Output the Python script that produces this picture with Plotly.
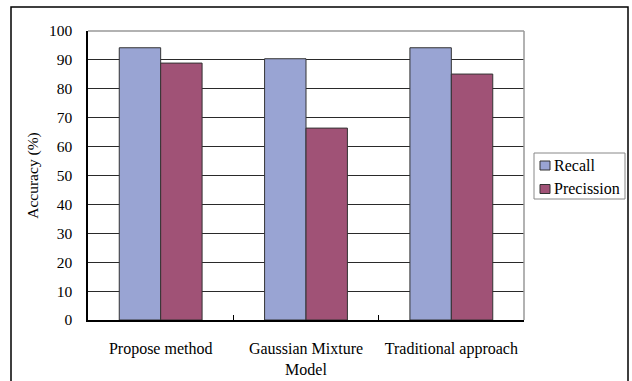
import plotly.graph_objects as go

categories = ["Propose method", "Gaussian Mixture<br>Model", "Traditional approach"]
recall = [94.2, 90.4, 94.2]
precission = [88.9, 66.4, 85.1]
y_ticks = [0, 10, 20, 30, 40, 50, 60, 70, 80, 90, 100]
series_names = ["Recall", "Precission"]
series_colors = ["#99A4D3", "#A05276"]

FONT = "Liberation Serif"
W, H = 632, 381
L, R, T, B = 88, 108, 31, 61
PW, PH = W - L - R, H - T - B


def px(x):
    return (x - L) / PW


def py(y):
    return (H - B - y) / PH


fig = go.Figure()
for name, vals, col in zip(series_names, [recall, precission], series_colors):
    fig.add_trace(go.Bar(
        name=name, x=categories, y=vals, showlegend=False,
        marker=dict(color=col, line=dict(color="#333333", width=1)),
    ))

fig.update_layout(
    width=W, height=H,
    margin=dict(l=L, r=R, t=T, b=B, autoexpand=False),
    paper_bgcolor="white", plot_bgcolor="white",
    barmode="group", bargap=0.43, bargroupgap=0,
    font=dict(family=FONT, size=15, color="black"),
)

fig.update_yaxes(
    range=[0, 100], tickvals=y_ticks, ticks="", automargin=False,
    showgrid=True, gridcolor="#2a2a2a", gridwidth=1,
    showline=True, linecolor="black", linewidth=1.5,
    zeroline=False, ticklabelstandoff=11,
    tickfont=dict(family=FONT, size=15.5, color="black"),
    title=dict(text="Accuracy (%)", standoff=6,
               font=dict(family=FONT, size=15.5, color="black")),
)
fig.update_xaxes(
    showline=True, linecolor="black", linewidth=1.5, automargin=False,
    ticks="inside", tickson="boundaries", ticklen=5, tickcolor="black",
    ticklabelstandoff=13,
    tickfont=dict(family=FONT, size=16, color="black"),
)

# grey top edge and right edge of the plotting area
fig.add_shape(type="line", xref="paper", yref="paper", x0=0, x1=1, y0=1, y1=1,
              line=dict(color="#999999", width=1.5), layer="above")
fig.add_shape(type="line", xref="paper", yref="paper", x0=1, x1=1, y0=0, y1=1,
              line=dict(color="#999999", width=1.5), layer="above")

# outer chart frame
fig.add_shape(type="rect", xref="paper", yref="paper",
              x0=px(11), x1=px(628), y0=py(400), y1=py(7),
              line=dict(color="black", width=1.5), layer="below")

# legend box with swatches and labels
fig.add_shape(type="rect", xref="paper", yref="paper",
              x0=px(534), x1=px(625), y0=py(199), y1=py(153),
              line=dict(color="#888888", width=1), fillcolor="white")
for i, (name, col) in enumerate(zip(series_names, series_colors)):
    top = 161 + i * 23.5
    fig.add_shape(type="rect", xref="paper", yref="paper",
                  x0=px(540), x1=px(550), y0=py(top + 9), y1=py(top),
                  line=dict(color="#333333", width=1), fillcolor=col)
    fig.add_annotation(x=px(552), y=py(top + 4.5), xref="paper", yref="paper",
                       text=name, showarrow=False, xanchor="left", yanchor="middle",
                       font=dict(family=FONT, size=16, color="black"))

fig.write_html("out.html")
